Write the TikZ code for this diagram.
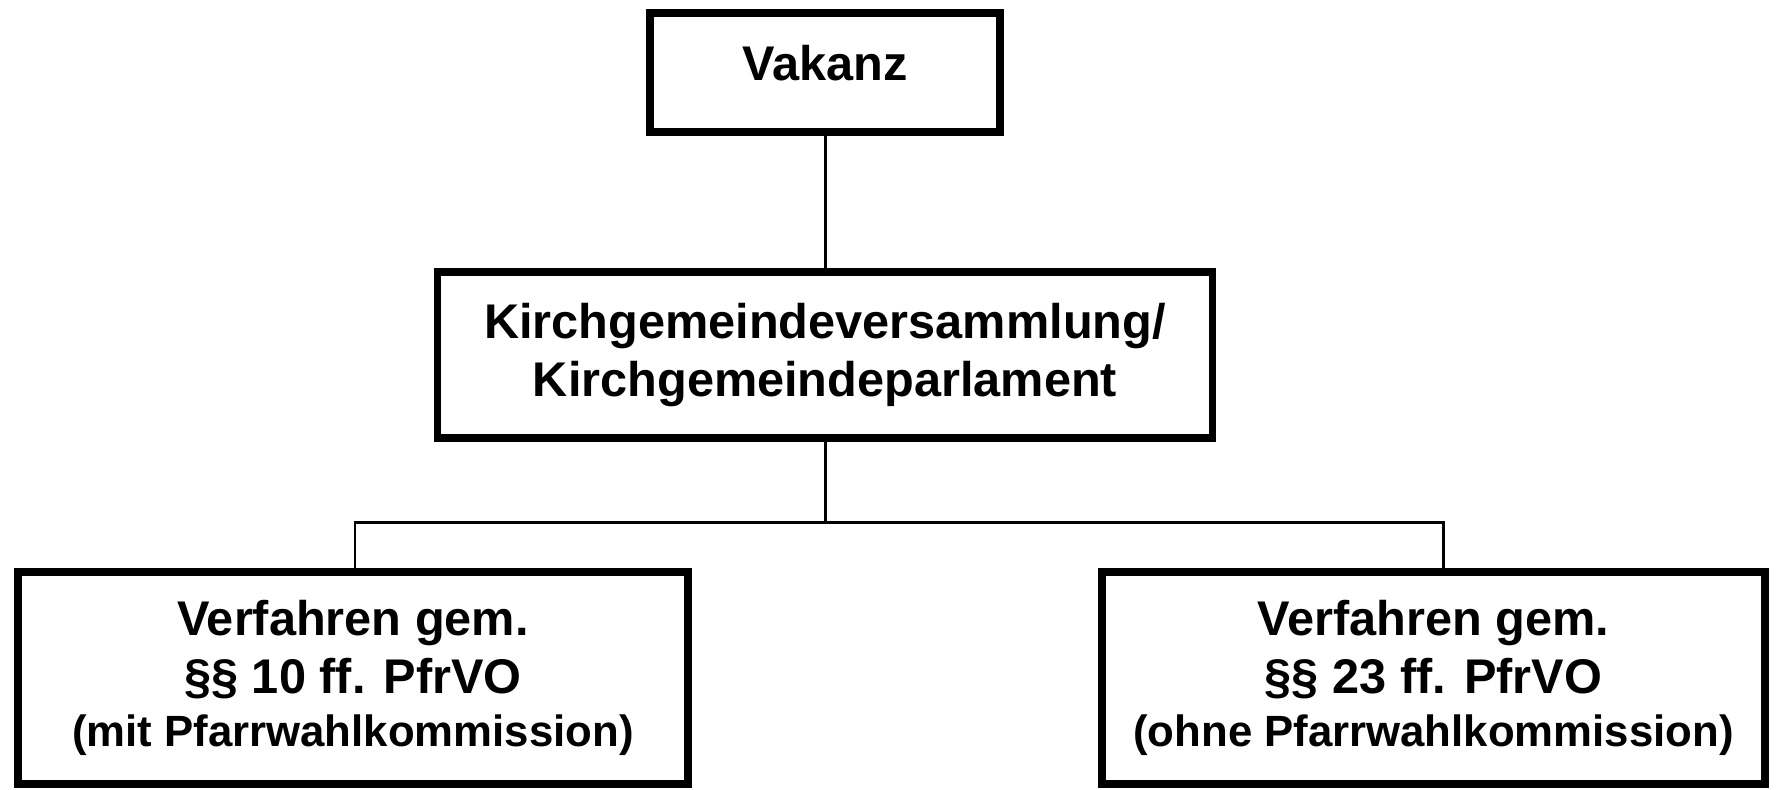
\documentclass[tikz,border=0pt]{standalone}
\usepackage{fontspec}
\setmainfont{Liberation Sans}
\begin{document}
\begin{tikzpicture}[box/.style={draw, line width=4.5pt, align=center, inner sep=0pt, font=\bfseries\fontsize{27.7}{33}\selectfont},
    link/.style={line width=1.7pt}]
    \useasboundingbox (0,0) rectangle (35.56,15.8);
    % Pfarrwahl: Vakanz und die beiden Verfahren
    \node[box, minimum width=7cm, minimum height=2.38cm, text depth=11pt] (vakanz) at (16.5,14.35) {Vakanz};
    \node[box, minimum width=15.5cm, minimum height=3.32cm] (kgv) at (16.5,8.7) {Kirchgemeindeversammlung/\\Kirchgemeindeparlament};
    \node[box, minimum width=13.4cm, minimum height=4.24cm] (mit) at (7.06,2.24) {Verfahren gem.\\§§ 10 ff. PfrVO\\[-3pt]{\fontsize{24.9}{30}\selectfont (mit Pfarrwahlkommission)}};
    \node[box, minimum width=13.26cm, minimum height=4.24cm] (ohne) at (28.67,2.24) {Verfahren gem.\\§§ 23 ff. PfrVO\\[-3pt]{\fontsize{24.9}{30}\selectfont (ohne Pfarrwahlkommission)}};
    \coordinate (split) at (16.5,5.34);
    \coordinate (barl) at (7.1,5.34);
    \coordinate (barr) at (28.86,5.34);
    \draw[link] (vakanz) -- (kgv);
    \draw[link] (kgv) -- (split);
    \draw[link] (barl |- mit.north) -- (barl) -- (barr) -- (barr |- ohne.north);
\end{tikzpicture}
\end{document}
